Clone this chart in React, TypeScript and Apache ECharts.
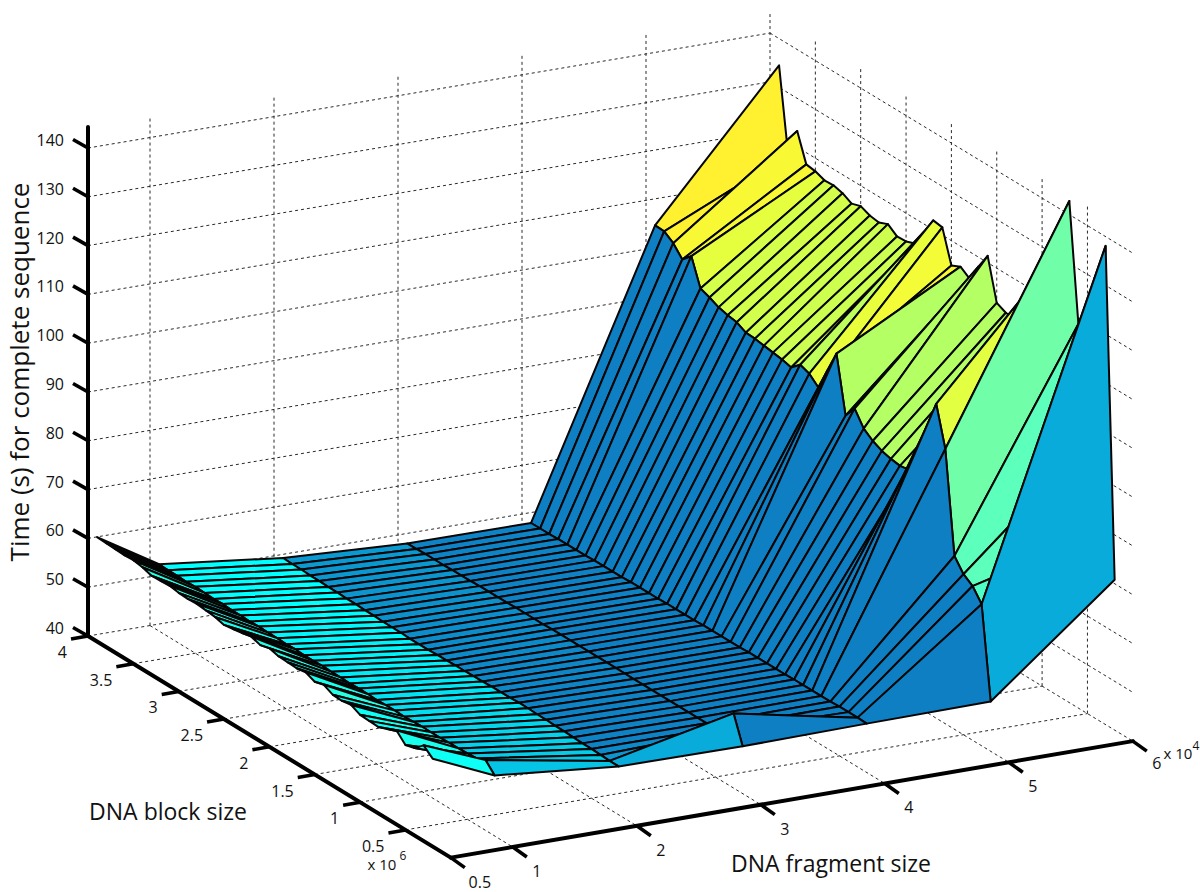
import React, { useEffect, useRef } from "react";
import * as echarts from "echarts";

// DNA fragment size (x 10^4)
const fragmentSizes = [0.5, 1, 2, 3, 4, 5, 6];
// DNA block size (x 10^6)
const blockSizes = [3.9, 3.8, 3.7, 3.6, 3.5, 3.4, 3.3, 3.2, 3.1, 3.0, 2.9, 2.8, 2.7, 2.6, 2.5, 2.4, 2.3, 2.2, 2.1, 2.0, 1.9, 1.8, 1.7, 1.6, 1.5, 1.4, 1.3, 1.2, 1.1, 1.0, 0.9, 0.8, 0.7, 0.6, 0.5, 0.4, 0.3, 0.2];

// Time (s), one list per fragment size, one value per block size
const timeAt05 = [61.4, 61.3, 61.2, 61.1, 61.2, 60.9, 60.3, 60.4, 60.5, 60.2, 60.1, 60.2, 60.0, 59.8, 59.3, 59.6, 59.9, 60.3, 59.7, 60.2, 59.7, 59.6, 59.5, 59.8, 59.0, 59.5, 58.6, 58.5, 58.8, 57.9, 57.8, 57.7, 58.4, 59.3, 57.4, 57.9, 59.6, 58.0];
const timeAt1 = [53.7, 53.6, 53.6, 53.5, 53.6, 53.5, 53.4, 53.5, 53.4, 53.4, 53.3, 53.4, 53.3, 53.3, 53.2, 53.3, 53.2, 53.2, 53.3, 53.2, 53.2, 53.1, 53.2, 53.2, 53.1, 53.2, 53.2, 53.1, 53.2, 53.3, 53.3, 53.3, 53.4, 53.4, 53.5, 53.6, 54.4, 52.4];
const timeAt2 = [50.7, 50.6, 50.6, 50.5, 50.5, 50.4, 50.4, 50.3, 50.3, 50.2, 50.2, 50.1, 50.1, 50.1, 50.0, 50.0, 50.0, 50.1, 50.1, 50.2, 50.2, 50.3, 50.3, 50.4, 50.4, 50.4, 50.5, 50.5, 50.4, 50.4, 50.3, 50.3, 50.2, 50.1, 50.1, 50.0, 49.9, 49.9];
const timeAt3 = [49.4, 49.4, 49.5, 49.5, 49.5, 49.6, 49.6, 49.6, 49.7, 49.7, 49.7, 49.7, 49.8, 49.8, 49.8, 49.8, 49.9, 49.9, 49.9, 49.9, 49.9, 49.9, 49.9, 49.9, 49.9, 49.9, 49.9, 49.9, 49.9, 49.9, 49.9, 49.9, 49.9, 49.9, 50.0, 50.6, 55.3, 49.7];
const timeAt4 = [49.3, 49.3, 49.3, 49.4, 49.4, 49.4, 49.4, 49.5, 49.5, 49.5, 49.5, 49.6, 49.6, 49.6, 49.6, 49.7, 49.7, 49.7, 49.7, 49.8, 49.8, 49.8, 49.8, 49.8, 49.9, 49.9, 49.9, 49.9, 49.9, 50.0, 50.0, 50.0, 50.0, 50.0, 50.1, 50.1, 50.1, 50.0];
const timeAt5 = [106.0, 105.9, 104.6, 102.4, 104.2, 98.7, 98.0, 97.1, 96.6, 96.3, 95.3, 95.2, 94.9, 94.6, 94.3, 93.8, 95.5, 94.8, 93.1, 97.7, 102.3, 90.7, 93.3, 90.3, 88.9, 88.0, 87.5, 87.2, 87.5, 93.1, 98.8, 104.4, 96.3, 75.5, 72.9, 71.6, 69.0, 50.2];
const timeAt6 = [134.5, 117.4, 123.3, 117.6, 117.3, 116.6, 116.7, 116.2, 115.2, 115.8, 115.0, 114.7, 115.5, 114.1, 114.2, 114.9, 118.5, 121.9, 121.6, 114.9, 115.8, 114.5, 118.1, 121.4, 112.9, 112.0, 111.9, 110.6, 108.6, 114.9, 123.2, 131.5, 142.8, 118.7, 95.3, 78.0, 138.1, 70.8];
const timeGrid = [timeAt05, timeAt1, timeAt2, timeAt3, timeAt4, timeAt5, timeAt6];

// Colour value of each facet, per strip between two fragment sizes
const shade05to1 = [0.44, 0.44, 0.44, 0.43, 0.44, 0.43, 0.44, 0.43, 0.44, 0.42, 0.44, 0.42, 0.43, 0.42, 0.44, 0.42, 0.41, 0.43, 0.41, 0.43, 0.41, 0.43, 0.41, 0.42, 0.41, 0.43, 0.41, 0.42, 0.41, 0.42, 0.41, 0.43, 0.41, 0.42, 0.41, 0.41, 0.41];
const shade1to2 = [0.40, 0.40, 0.40, 0.40, 0.40, 0.40, 0.40, 0.40, 0.39, 0.39, 0.39, 0.38, 0.38, 0.38, 0.37, 0.37, 0.37, 0.36, 0.36, 0.35, 0.35, 0.34, 0.34, 0.33, 0.33, 0.32, 0.32, 0.31, 0.31, 0.30, 0.30, 0.29, 0.29, 0.28, 0.28, 0.27, 0.26];
const shade2to3 = [0.12, 0.12, 0.11, 0.11, 0.10, 0.10, 0.10, 0.09, 0.09, 0.08, 0.08, 0.07, 0.07, 0.07, 0.06, 0.06, 0.05, 0.05, 0.05, 0.04, 0.04, 0.03, 0.03, 0.03, 0.02, 0.02, 0.02, 0.02, 0.01, 0.01, 0.01, 0.01, 0.01, 0.01, 0.05, 0.10, 0.20];
const shade3to4 = [0.02, 0.02, 0.02, 0.02, 0.02, 0.02, 0.01, 0.01, 0.01, 0.01, 0.01, 0.01, 0.01, 0.01, 0.01, 0.01, 0, 0, 0, 0, 0, 0, 0, 0, 0, 0, 0, 0, 0, 0, 0, 0, 0, 0, 0, 0, 0];
const shade4to5 = [0, 0, 0, 0, 0, 0, 0, 0, 0, 0, 0, 0, 0, 0, 0, 0, 0, 0, 0, 0, 0, 0, 0, 0, 0, 0, 0, 0, 0, 0, 0, 0, 0, 0, 0, 0, 0];
const shade5to6 = [1, 1, 0.95, 0.95, 0.86, 0.8, 0.8, 0.8, 0.79, 0.79, 0.78, 0.78, 0.78, 0.77, 0.77, 0.76, 0.72, 0.88, 0.92, 0.95, 0.68, 0.68, 0.68, 0.68, 0.68, 0.68, 0.68, 0.68, 0.68, 0.68, 0.68, 0.85, 0.5, 0.47, 0.47, 0.46, 0.2];
const shadeGrid = [shade05to1, shade1to2, shade2to3, shade3to4, shade4to5, shade5to6];

// Axis ticks
const timeTicks = [40, 50, 60, 70, 80, 90, 100, 110, 120, 130, 140];
const blockTicks = [4, 3.5, 3, 2.5, 2, 1.5, 1, 0.5];
const fragmentTicks = [0.5, 1, 2, 3, 4, 5, 6];
const timeTop = 144.3;
const blockFront = 0;

const FONT = "'Open Sans', sans-serif";

function project(frag: number, block: number, time: number): number[] {
  const u = frag - 0.5;
  const v = 4 - block;
  return [88 + 124 * u + 90.7 * v, 636 - 20.9 * u + (55.4 - 0.07 * u) * v - 4.88 * (time - 40)];
}

const colorStops: [number, number[]][] = [
  [0, [15, 127, 196]],
  [0.2, [8, 171, 218]],
  [0.4, [0, 255, 255]],
  [0.47, [92, 255, 188]],
  [0.5, [112, 255, 168]],
  [0.68, [180, 255, 100]],
  [0.8, [212, 255, 74]],
  [0.9, [240, 255, 56]],
  [1, [255, 240, 48]],
];

function colorOf(t: number): string {
  for (let i = 1; i < colorStops.length; i++) {
    const [t1, c1] = colorStops[i];
    const [t0, c0] = colorStops[i - 1];
    if (t <= t1) {
      const f = (t - t0) / (t1 - t0);
      return `rgb(${c0.map((c, k) => Math.round(c + (c1[k] - c) * f)).join(",")})`;
    }
  }
  return "rgb(255,240,48)";
}

type Seg = number[];
function gridSegments(): Seg[] {
  const out: Seg[] = [];
  const fMin = fragmentTicks[0];
  const fMax = fragmentTicks[fragmentTicks.length - 1];
  const bBack = blockTicks[0];
  timeTicks.forEach((t) => {
    if (t > timeTicks[0]) {
      out.push([fMin, bBack, t, fMax, bBack, t]);
      out.push([fMax, bBack, t, fMax, blockFront, t]);
    }
  });
  fragmentTicks.slice(1).forEach((f) => {
    out.push([f, bBack, timeTicks[0], f, bBack, timeTop]);
    out.push([f, bBack, timeTicks[0], f, blockFront, timeTicks[0]]);
  });
  blockTicks.slice(1).forEach((b) => {
    out.push([fMax, b, timeTicks[0], fMax, b, timeTop]);
    out.push([fMin, b, timeTicks[0], fMax, b, timeTicks[0]]);
  });
  out.push([fMin, bBack, timeTicks[0], fMax, bBack, timeTicks[0]]);
  return out;
}

export default function App() {
  const ref = useRef<HTMLDivElement>(null);
  useEffect(() => {
    const chart = echarts.init(ref.current!, null, { renderer: "svg" });
    const facets: number[][] = [];
    for (let s = shadeGrid.length - 1; s >= 0; s--) {
      for (let r = 0; r < blockSizes.length - 1; r++) facets.push([s, r]);
    }
    const fMin = fragmentTicks[0];
    const bBack = blockTicks[0];
    const tMin = timeTicks[0];

    const axisSegs: Seg[] = [
      [fMin, bBack, tMin, fMin, bBack, timeTop],
      [fMin, bBack, tMin, fMin, blockFront, tMin],
      [fMin, blockFront, tMin, 6, blockFront, tMin],
    ];

    const line = (api: any, a: number[], b: number[], style: any) => {
      const p = api.coord(a);
      const q = api.coord(b);
      return { type: "line", shape: { x1: p[0], y1: p[1], x2: q[0], y2: q[1] }, style };
    };

    const labelItems: any[] = [];
    timeTicks.forEach((t) => labelItems.push([String(t), ...project(fMin, bBack, t), -24, -8, "right"]));
    blockTicks.forEach((b) => labelItems.push([String(b), ...project(fMin, b, tMin), -21, 16, "right"]));
    fragmentTicks.forEach((f) => labelItems.push([String(f), ...project(f, blockFront, tMin), f === 0.5 ? 29 : 24, f === 6 ? 22 : 24, "center"]));

    chart.setOption({
      animation: false,
      backgroundColor: "#ffffff",
      grid: { left: 0, right: 0, top: 0, bottom: 0 },
      xAxis: { type: "value", min: 0, max: 1200, show: false },
      yAxis: { type: "value", min: 0, max: 892, inverse: true, show: false },
      series: [
        {
          type: "custom",
          coordinateSystem: "cartesian2d",
          silent: true,
          z: 1,
          data: gridSegments(),
          renderItem: (_: any, api: any) => {
            const v = [0, 1, 2, 3, 4, 5].map((i) => api.value(i));
            return line(api, project(v[0], v[1], v[2]), project(v[3], v[4], v[5]), {
              stroke: "#2a2a2a",
              lineWidth: 1,
              lineDash: [3, 3],
            });
          },
        },
        {
          type: "custom",
          coordinateSystem: "cartesian2d",
          silent: true,
          z: 2,
          progressive: 0,
          data: facets,
          renderItem: (_: any, api: any) => {
            const s = api.value(0);
            const r = api.value(1);
            const corners = [[s, r], [s + 1, r], [s + 1, r + 1], [s, r + 1]];
            const points = corners.map(([a, b]) => api.coord(project(fragmentSizes[a], blockSizes[b], timeGrid[a][b])));
            return {
              type: "polygon",
              shape: { points },
              style: { fill: colorOf(shadeGrid[s][r]), stroke: "#050505", lineWidth: 2, lineJoin: "round" },
            };
          },
        },
        {
          type: "custom",
          coordinateSystem: "cartesian2d",
          silent: true,
          z: 3,
          data: axisSegs,
          renderItem: (_: any, api: any) => {
            const v = [0, 1, 2, 3, 4, 5].map((i) => api.value(i));
            return line(api, project(v[0], v[1], v[2]), project(v[3], v[4], v[5]), { stroke: "#000", lineWidth: 4, lineCap: "round" });
          },
        },
        {
          type: "custom",
          coordinateSystem: "cartesian2d",
          silent: true,
          z: 3,
          data: [
            ...timeTicks.map((t) => [0, t]),
            ...blockTicks.map((b) => [1, b]),
            ...fragmentTicks.map((f) => [2, f]),
          ],
          renderItem: (_: any, api: any) => {
            const kind = api.value(0);
            const val = api.value(1);
            const p = kind === 0 ? project(fMin, bBack, val) : kind === 1 ? project(fMin, val, tMin) : project(val, blockFront, tMin);
            const d = kind === 0 ? [-15, -8.5] : kind === 1 ? [-17, 3] : [14, 10];
            return line(api, p, [p[0] + d[0], p[1] + d[1]], { stroke: "#000", lineWidth: 3.6 });
          },
        },
        {
          type: "custom",
          coordinateSystem: "cartesian2d",
          silent: true,
          z: 4,
          data: labelItems.map((_, i) => [i]),
          renderItem: (_: any, api: any) => {
            const it = labelItems[api.value(0)];
            const p = api.coord([it[1] + it[3], it[2] + it[4]]);
            return {
              type: "text",
              x: p[0],
              y: p[1],
              style: { text: it[0], fontSize: 16, fontFamily: FONT, fill: "#111", align: it[5], verticalAlign: "middle" },
            };
          },
        },
      ],
      graphic: [
        { type: "text", x: 19, y: 372, rotation: Math.PI / 2, style: { text: "Time (s) for complete sequence", fontSize: 26, lineHeight: 26, fontFamily: FONT, fill: "#111", align: "center", verticalAlign: "middle" } },
        { type: "text", x: 168, y: 811, style: { text: "DNA block size", fontSize: 23, fontFamily: FONT, fill: "#111", align: "center", verticalAlign: "middle" } },
        { type: "text", x: 831, y: 863, style: { text: "DNA fragment size", fontSize: 23, fontFamily: FONT, fill: "#111", align: "center", verticalAlign: "middle" } },
        { type: "text", x: 382, y: 864, style: { text: "x 10", fontSize: 15, fontFamily: FONT, fill: "#111", align: "center", verticalAlign: "middle" } },
        { type: "text", x: 403, y: 855, style: { text: "6", fontSize: 12, fontFamily: FONT, fill: "#111", align: "center", verticalAlign: "middle" } },
        { type: "text", x: 1178, y: 753, style: { text: "x 10", fontSize: 15, fontFamily: FONT, fill: "#111", align: "center", verticalAlign: "middle" } },
        { type: "text", x: 1196, y: 745, style: { text: "4", fontSize: 12, fontFamily: FONT, fill: "#111", align: "center", verticalAlign: "middle" } },
      ],
    });
    return () => chart.dispose();
  }, []);
  return <div ref={ref} style={{ position: "fixed", left: 0, top: 0, width: 1200, height: 892 }} />;
}
